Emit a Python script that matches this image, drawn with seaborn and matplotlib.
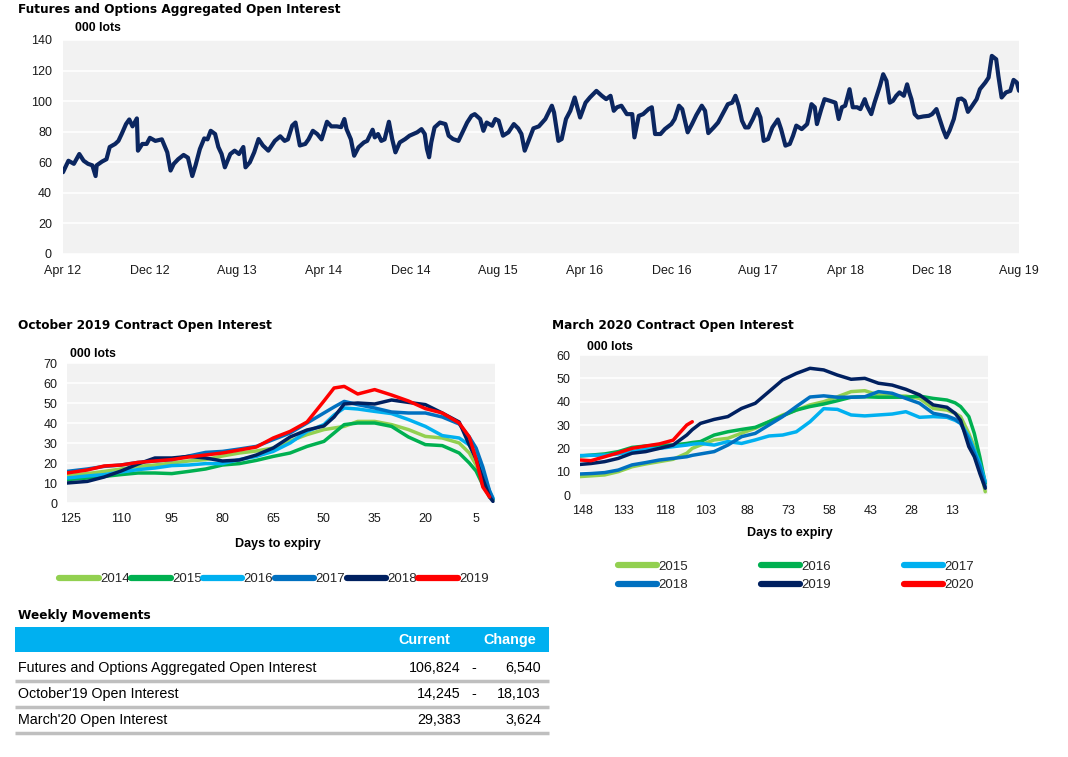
import numpy as np
import pandas as pd
import matplotlib
matplotlib.use("Agg")
import matplotlib.pyplot as plt
import seaborn as sns
from matplotlib.patches import Rectangle

# ---- data: aggregated open interest (months since Apr 2012, 000 lots)
agg_month = [0.0, 0.5, 1.0, 1.5, 1.9, 2.3, 2.7, 3.0, 3.1, 3.6, 4.0, 4.3, 4.8, 5.1, 5.4, 5.8, 6.1,
             6.4, 6.8, 6.9, 7.3, 7.7, 8.0, 8.5, 9.1, 9.6, 9.9, 10.2, 10.6, 11.1, 11.5, 11.9, 12.2,
             12.6, 13.0, 13.3, 13.6, 14.0, 14.3, 14.6, 14.9, 15.4, 15.8, 16.2, 16.6, 16.8, 17.2,
             17.6, 18.0, 18.4, 18.9, 19.5, 20.0, 20.4, 20.7, 21.1, 21.4, 21.8, 22.3, 22.6, 23.0,
             23.4, 23.8, 24.3, 24.7, 25.2, 25.6, 25.9, 26.1, 26.5, 26.8, 27.2, 27.7, 28.0, 28.5,
             28.7, 29.0, 29.3, 29.6, 30.0, 30.3, 30.6, 31.0, 31.5, 31.9, 32.6, 33.0, 33.3, 33.5,
             33.7, 33.9, 34.2, 34.7, 35.2, 35.5, 35.9, 36.4, 36.7, 37.2, 37.6, 37.9, 38.4, 38.7,
             39.0, 39.5, 39.8, 40.1, 40.5, 41.0, 41.5, 41.9, 42.2, 42.5, 42.8, 43.3, 43.8, 44.4,
             45.0, 45.2, 45.6, 45.9, 46.3, 46.7, 47.1, 47.6, 48.1, 48.5, 49.1, 49.6, 50.0, 50.4,
             50.7, 51.0, 51.4, 51.9, 52.4, 52.6, 53.0, 53.4, 53.9, 54.2, 54.5, 55.0, 55.4, 56.0,
             56.3, 56.7, 57.0, 57.5, 57.9, 58.3, 58.8, 59.1, 59.4, 59.9, 60.3, 60.8, 61.2, 61.6,
             61.9, 62.2, 62.5, 62.8, 63.1, 63.5, 63.9, 64.2, 64.5, 64.9, 65.3, 65.8, 66.1, 66.5,
             66.9, 67.2, 67.5, 68.0, 68.5, 68.9, 69.2, 69.4, 69.8, 70.1, 70.6, 71.1, 71.4, 71.7,
             72.0, 72.4, 72.7, 73.1, 73.4, 73.8, 74.0, 74.4, 74.7, 75.2, 75.5, 75.8, 76.1, 76.4,
             76.7, 77.0, 77.4, 77.7, 77.9, 78.1, 78.4, 78.7, 79.2, 79.7, 80.0, 80.4, 80.7, 81.0,
             81.3, 81.6, 82.0, 82.4, 82.7, 83.0, 83.3, 83.6, 84.1, 84.4, 84.9, 85.2, 85.5, 85.9,
             86.1, 86.4, 86.8, 87.2, 87.5, 87.8, 88.0]
agg_oi = [53.5, 61.0, 59.0, 65.4, 61.0, 59.0, 58.0, 51.0, 58.0, 60.5, 62.0, 70.0, 72.0, 74.0,
          78.5, 85.0, 88.0, 83.5, 88.7, 67.6, 72.0, 72.0, 76.0, 74.0, 75.0, 66.5, 54.6, 59.0,
          62.0, 64.8, 63.0, 51.0, 58.0, 68.7, 75.6, 75.0, 80.6, 78.5, 70.0, 65.4, 56.7, 65.4,
          67.6, 65.4, 70.0, 56.7, 60.0, 66.5, 75.2, 71.0, 67.6, 74.0, 77.0, 74.0, 75.0, 84.0,
          86.0, 71.0, 72.0, 75.0, 80.6, 78.5, 75.0, 86.5, 83.5, 83.5, 83.0, 88.3, 81.7, 75.0,
          64.3, 69.8, 73.0, 74.0, 81.3, 76.3, 78.5, 74.0, 75.0, 86.5, 75.2, 66.5, 73.0, 75.2,
          77.4, 79.6, 81.7, 78.5, 68.7, 63.3, 73.0, 82.8, 86.0, 85.0, 77.4, 75.2, 74.0, 78.5,
          86.0, 90.4, 91.5, 88.3, 80.6, 86.0, 83.9, 88.3, 87.2, 77.4, 79.6, 85.0, 82.2, 78.5,
          67.6, 73.0, 82.2, 83.5, 88.3, 97.0, 92.6, 74.0, 75.2, 88.3, 93.7, 102.4, 89.3, 99.0,
          102.4, 106.7, 103.5, 101.3, 103.5, 93.7, 96.0, 97.0, 91.5, 91.5, 76.3, 90.4, 91.5,
          94.8, 96.0, 78.5, 78.5, 81.7, 85.0, 88.3, 97.0, 94.8, 79.6, 85.0, 90.9, 97.0, 93.7,
          79.1, 82.8, 86.0, 92.6, 98.0, 99.0, 103.5, 97.0, 87.2, 82.8, 82.8, 88.3, 94.8, 89.3,
          74.0, 75.2, 82.8, 88.0, 81.7, 70.9, 72.0, 77.4, 84.0, 81.7, 85.0, 98.0, 96.0, 85.0,
          94.8, 101.3, 100.2, 99.0, 88.3, 96.0, 97.0, 107.8, 96.0, 96.0, 94.8, 101.3, 97.0,
          91.5, 99.0, 110.0, 117.6, 113.3, 99.0, 100.2, 103.5, 105.7, 103.5, 111.0, 105.7,
          101.3, 91.5, 89.3, 90.0, 90.4, 91.5, 94.8, 88.3, 81.7, 76.3, 80.6, 88.3, 101.3, 101.7,
          100.2, 93.0, 96.0, 101.3, 107.8, 112.2, 115.4, 129.6, 127.4, 116.5, 102.4, 105.7,
          106.7, 113.9, 112.2, 106.8]
agg_tick_month = [0, 8, 16, 24, 32, 40, 48, 56, 64, 72, 80, 88]
agg_tick_label = ["Apr 12", "Dec 12", "Aug 13", "Apr 14", "Dec 14", "Aug 15",
                  "Apr 16", "Dec 16", "Aug 17", "Apr 18", "Dec 18", "Aug 19"]

# ---- October 2019 contract (days to expiry, 000 lots)
oct_days = [126, 120, 115, 110, 105, 100, 95, 90, 85, 80, 75, 70, 65, 60, 55, 50, 47, 44, 40,
            35, 30, 25, 20, 15, 10, 7, 5, 3, 1, 0]
oct_2014 = [13.7, 14.7, 15.8, 17, 18.3, 19, 20, 21, 21.7, 23.5, 25, 26, 27.5, 31, 34.2, 36.7,
            37.5, 38.3, 40.8, 40.8, 39.2, 36.7, 33.3, 32.5, 30, 25, 19, 12, 4, 1.7]
oct_2015 = [11.7, 12.5, 13.3, 14.2, 15, 15, 14.7, 15.8, 17, 19, 19.7, 21.3, 23.3, 25, 28.3,
            30.8, 35, 39.2, 40, 40, 38.3, 33, 29.2, 28.7, 25, 20, 16, 9, 3, 1.7]
oct_2016 = [12.5, 13.5, 14.2, 15.5, 16.7, 17.5, 18.7, 19, 19.7, 19.7, 21.7, 23.3, 25.8, 30,
            35.8, 39.2, 44, 47.5, 47, 45.8, 44.7, 41.7, 38.3, 33.7, 32.5, 29, 24, 14, 6, 2.5]
oct_2017 = [15.8, 17, 18.3, 19, 20.3, 21, 21.7, 23.5, 25.3, 25.8, 27, 28.3, 31.7, 35, 40, 45,
            48, 50.8, 49.2, 47.5, 45.5, 45, 45, 43, 39.5, 33, 27.5, 18, 6, 2]
oct_2018 = [10, 10.8, 13, 16, 19.5, 22.5, 22.5, 23.3, 22.5, 21, 21.5, 24, 27.5, 33, 36.5,
            38.5, 43, 49.5, 50, 49.5, 51.5, 50.3, 49.2, 45, 40.5, 29, 22, 12, 3, 0.8]
oct_2019 = [15, 16.5, 18.5, 19, 20.3, 21, 21.7, 23, 24, 25, 26.5, 28, 32.5, 35.8, 40.5, 51,
            57.5, 58.3, 54.5, 56.7, 54, 51, 47.2, 45, 40, 33, 22, 8, 3, np.nan]
oct_years = ["2014", "2015", "2016", "2017", "2018", "2019"]
oct_colors = ["#92d050", "#00b050", "#00b0f0", "#0070c0", "#002060", "#ff0000"]
oct_ticks = [125, 110, 95, 80, 65, 50, 35, 20, 5]

# ---- March 2020 contract
mar_days = [149, 145, 140, 135, 130, 125, 120, 115, 110, 108, 105, 100, 95, 90, 85, 80, 75,
            70, 65, 60, 55, 50, 45, 40, 35, 30, 25, 20, 15, 12, 10, 7, 5, 3, 1]
mar_2015 = [7.9, 8.2, 8.6, 10, 12.1, 13.3, 14.3, 15.3, 17.9, 20, 21.4, 23.6, 24.3, 26.5, 28.6,
            31.4, 34.3, 36.4, 38.6, 40, 42.1, 44.3, 44.7, 42.9, 42.4, 42.4, 41.4, 37.1, 36.4,
            35, 33.6, 26.4, 20.7, 12.1, 1.4]
mar_2016 = [16.7, 17.1, 17.6, 18.6, 20.4, 21, 21.4, 21.4, 22.1, 22.5, 22.9, 25.7, 27.1, 28.1,
            29, 31.4, 33.9, 36.4, 37.9, 39, 40.4, 41.9, 42.1, 41.9, 41.9, 41.9, 42.4, 41.4,
            40.7, 39.5, 37.9, 33.6, 26.4, 16.4, 5]
mar_2017 = [16.9, 17, 17.1, 17.6, 18.6, 19.6, 20, 20.7, 21.4, 21.8, 22.1, 21.4, 22.9, 22.1,
            23.6, 25.3, 25.7, 27.1, 31.4, 37, 36.7, 34.3, 33.9, 34.3, 34.7, 35.7, 33.3, 33.6,
            33.3, 32, 30.7, 25, 19.3, 13.6, 5.7]
mar_2018 = [9, 9.2, 9.6, 10.7, 12.9, 13.9, 15, 15.7, 16.4, 17, 17.6, 18.6, 21.4, 25, 26.4, 30,
            33.6, 37.9, 42, 42.5, 41.9, 41.9, 42.1, 44.3, 43.6, 41.4, 39.3, 35, 33.9, 32.5,
            30.7, 23.6, 17.9, 12.1, 3.6]
mar_2019 = [13.1, 13.5, 14.3, 15.7, 17.9, 18.6, 20, 21.4, 25.7, 28, 30.7, 32.4, 33.6, 37.1,
            39.3, 44.3, 49.3, 52.1, 54.3, 53.6, 51.4, 49.6, 50, 47.9, 47.1, 45.3, 42.9, 38.6,
            37.6, 35, 32, 20.7, 16.4, 9.3, 2.9]
mar_2020 = [15, 14.7, 16.4, 18.1, 20, 21, 21.9, 23.5, 30, 31.4] + [np.nan] * 25
mar_years = ["2015", "2016", "2017", "2018", "2019", "2020"]
mar_colors = ["#92d050", "#00b050", "#00b0f0", "#0070c0", "#002060", "#ff0000"]
mar_ticks = [148, 133, 118, 103, 88, 73, 58, 43, 28, 13]

# ---- weekly movements table
tbl_names = ["Futures and Options Aggregated Open Interest", "October'19 Open Interest",
             "March'20 Open Interest"]
tbl_current = ["106,824", "14,245", "29,383"]
tbl_neg = ["-", "-", ""]
tbl_change = ["6,540", "18,103", "3,624"]

# ---- style
sns.set_theme(style="whitegrid", rc={
    "axes.facecolor": "#f2f2f2", "grid.color": "white", "grid.linewidth": 1.2,
    "axes.edgecolor": "none", "xtick.labelsize": 9, "ytick.labelsize": 9,
    "xtick.color": "#1a1a1a", "ytick.color": "#1a1a1a",
})
plt.rcParams["font.family"] = ["Liberation Sans", "DejaVu Sans"]

W, H = 1068, 757
fig = plt.figure(figsize=(W / 100, H / 100), dpi=100)


def px_axes(left, top, right, bottom):
    return fig.add_axes([left / W, 1 - bottom / H, (right - left) / W, (bottom - top) / H])


def tidy(ax, pad=7):
    ax.grid(axis="x", visible=False)
    ax.set_xlabel("")
    ax.set_ylabel("")
    ax.tick_params(length=0, pad=pad)
    for s in ax.spines.values():
        s.set_visible(False)


# top chart
ax1 = px_axes(63, 40, 1019, 254)
sns.lineplot(x=agg_month, y=agg_oi, ax=ax1, color="#0b2660", linewidth=3.0)
ax1.set_xlim(0, 88)
ax1.set_ylim(0, 140)
ax1.set_yticks(range(0, 141, 20))
ax1.set_xticks(agg_tick_month, agg_tick_label)
tidy(ax1, pad=8)


def contract_panel(ax, days, series, years, colors, xlim, ymax, ticks):
    df = pd.DataFrame({"days": days})
    for y, vals in zip(years, series):
        df[y] = vals
    long = df.melt(id_vars="days", var_name="year", value_name="oi").dropna()
    sns.lineplot(data=long, x="days", y="oi", hue="year", hue_order=years,
                 palette=dict(zip(years, colors)), linewidth=2.5, ax=ax)
    ax.set_xlim(*xlim)
    ax.set_ylim(0, ymax)
    ax.set_yticks(range(0, ymax + 1, 10))
    ax.set_xticks(ticks)
    tidy(ax)
    handles, labels = ax.get_legend_handles_labels()
    ax.get_legend().remove()
    return handles, labels


ax2 = px_axes(67, 363, 495, 503)
h2, l2 = contract_panel(ax2, oct_days, [oct_2014, oct_2015, oct_2016, oct_2017, oct_2018, oct_2019],
                        oct_years, oct_colors, (126, -0.6), 70, oct_ticks)
leg2 = fig.legend(h2, l2, loc="center", bbox_to_anchor=(274 / W, 1 - 579 / H), ncol=6,
                  frameon=False, fontsize=9.5, handlelength=3.0, handletextpad=0.1,
                  columnspacing=0.1)

ax3 = px_axes(580, 355, 988, 495)
h3, l3 = contract_panel(ax3, mar_days, [mar_2015, mar_2016, mar_2017, mar_2018, mar_2019, mar_2020],
                        mar_years, mar_colors, (149, 0), 60, mar_ticks)
# legend is filled column by column, so reorder to read 2015, 2016, 2017 across the first row
order = [0, 3, 1, 4, 2, 5]
leg3 = fig.legend([h3[i] for i in order], [l3[i] for i in order], loc="center",
                  bbox_to_anchor=(796 / W, 1 - 576 / H), ncol=3, frameon=False, fontsize=9.5,
                  handlelength=3.0, handletextpad=0.1, columnspacing=5.5, labelspacing=0.45)
for leg in (leg2, leg3):
    for ln in leg.get_lines():
        ln.set_linewidth(4.5)
        ln.set_solid_capstyle("round")

# overlay for titles, annotations and table (pixel coordinates)
ov = fig.add_axes([0, 0, 1, 1])
ov.set_xlim(0, W)
ov.set_ylim(H, 0)
ov.axis("off")

title = dict(fontweight="bold", color="black", va="center", fontsize=8.75,
             family=["DejaVu Sans"])
bold = dict(fontweight="bold", color="black", va="center")
ov.text(18, 9, "Futures and Options Aggregated Open Interest", **title)
ov.text(75, 28, "000 lots", fontsize=8.8, **bold)
ov.text(18, 325, "October 2019 Contract Open Interest", **title)
ov.text(70, 354, "000 lots", fontsize=8.8, **bold)
ov.text(278, 544, "Days to expiry", fontsize=9, ha="center", **bold)
ov.text(552, 325, "March 2020 Contract Open Interest", **title)
ov.text(587, 347, "000 lots", fontsize=8.8, **bold)
ov.text(790, 533, "Days to expiry", fontsize=9, ha="center", **bold)

ov.text(18, 615, "Weekly Movements", **title)
ov.add_patch(Rectangle((15, 627), 534, 25, color="#00b0f0", lw=0))
ov.text(424, 640, "Current", fontsize=10.4, ha="center", va="center", color="white",
        fontweight="bold")
ov.text(510, 640, "Change", fontsize=10.4, ha="center", va="center", color="white",
        fontweight="bold")
row_y = [668, 694, 720]
for y, name, cur, neg, chg in zip(row_y, tbl_names, tbl_current, tbl_neg, tbl_change):
    ov.text(18, y, name, fontsize=10.3, va="center", color="black")
    ov.text(461, y, cur, fontsize=10.3, va="center", ha="right", color="black")
    ov.text(474, y, neg, fontsize=10.3, va="center", ha="center", color="black")
    ov.text(541, y, chg, fontsize=10.3, va="center", ha="right", color="black")
    ov.plot([15, 549], [y + 13, y + 13], color="#bfbfbf", lw=2.5, solid_capstyle="butt")

fig.savefig("out.png", dpi=100)
plt.close(fig)
